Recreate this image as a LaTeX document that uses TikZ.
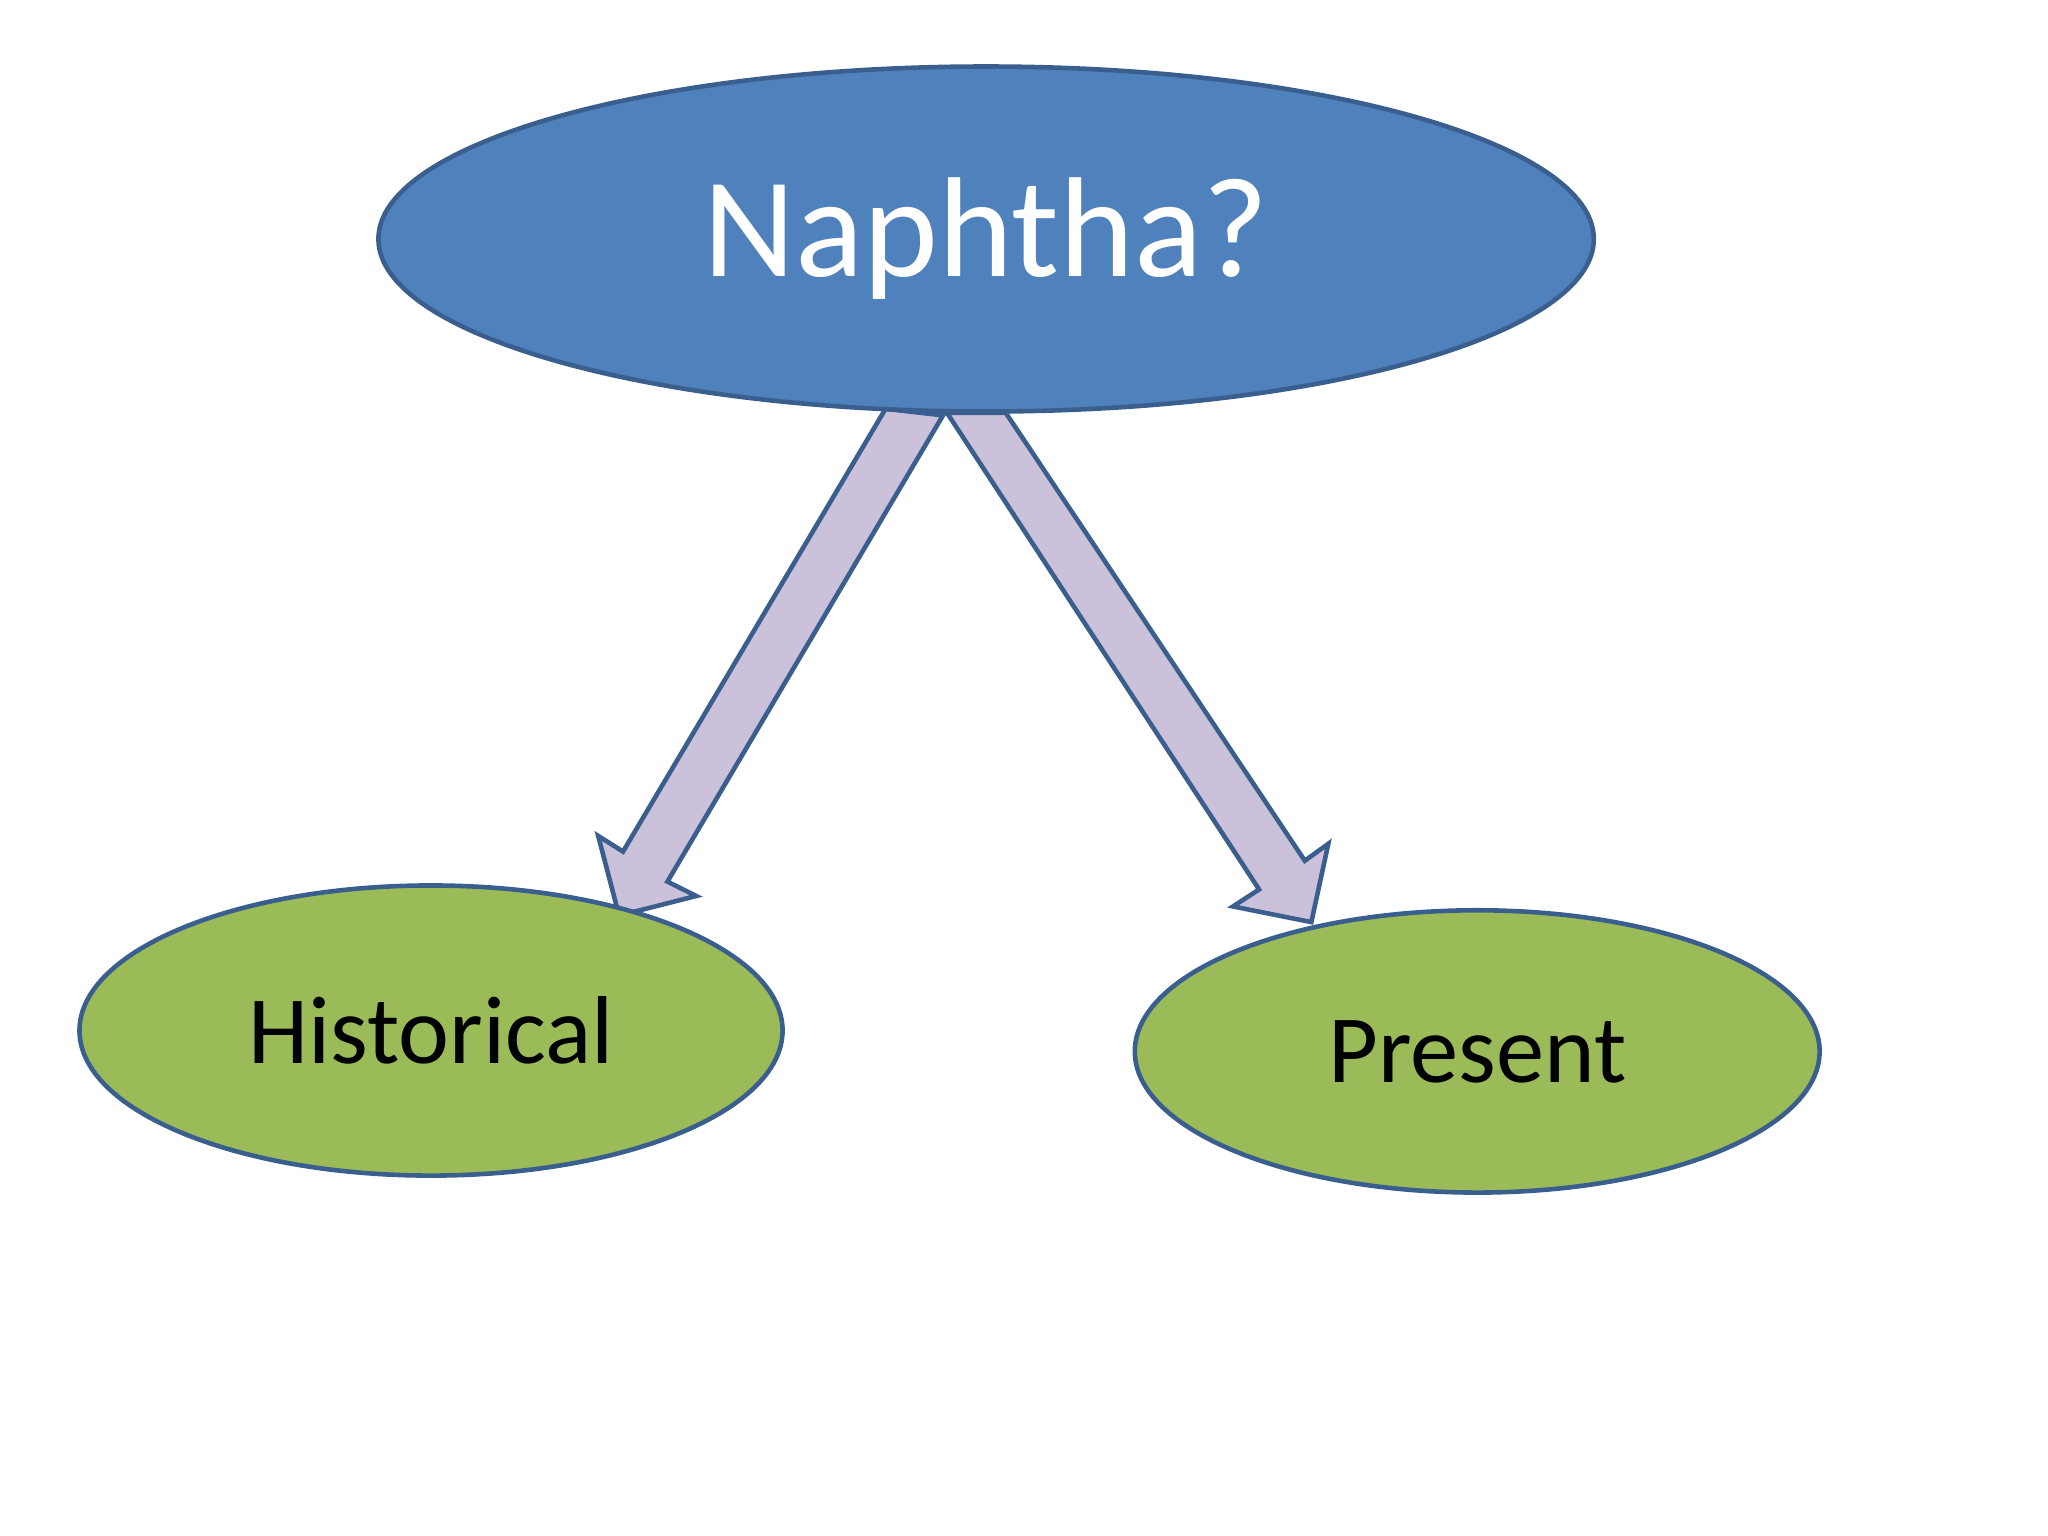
\documentclass[tikz,border=0pt]{standalone}
\usepackage{fontspec}
\setmainfont{Carlito}
\usetikzlibrary{shapes.geometric}
\definecolor{blfill}{HTML}{4F81BD}
\definecolor{edge}{HTML}{3A5F8F}
\definecolor{grfill}{HTML}{9BBB59}
\definecolor{arfill}{HTML}{CCC1DA}
\begin{document}
\begin{tikzpicture}[x=0.01cm,y=-0.01cm,
  oval/.style={ellipse,draw=edge,line width=1pt,inner sep=0pt},
  blockarrow/.style={draw=edge,fill=arfill,line width=1pt,line join=miter}]
\useasboundingbox (0,0) rectangle (1568,1176);
\draw[blockarrow] (678,313) -- (722,318) -- (511,675) -- (533,686) -- (474,701) -- (458,640) -- (477,652) -- cycle;
\draw[blockarrow] (725,316) -- (770,316) -- (999,659) -- (1017,646) -- (1004,706) -- (944,694) -- (964,681) -- cycle;
\node[oval,fill=blfill,minimum width=930\pgflinewidth*0+9.3cm,minimum height=2.64cm,text=white,font=\fontsize{31}{36}\selectfont] (top) at (755,183) {Naphtha?};
\node[oval,fill=grfill,minimum width=5.38cm,minimum height=2.22cm,font=\fontsize{21}{25}\selectfont] (hist) at (330,789) {Historical};
\node[oval,fill=grfill,minimum width=5.24cm,minimum height=2.16cm,font=\fontsize{21}{25}\selectfont] (pres) at (1131,805) {Present};
\end{tikzpicture}
\end{document}
